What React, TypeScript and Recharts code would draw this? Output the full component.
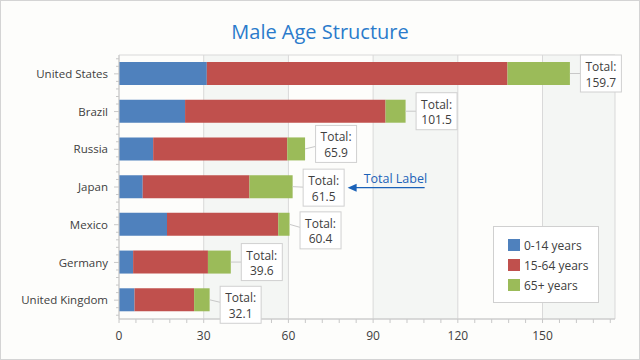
import React from 'react';
import { BarChart, Bar, XAxis, YAxis, CartesianGrid, LabelList, Legend } from 'recharts';

// ---- data ----
const COUNTRIES = ['United States', 'Brazil', 'Russia', 'Japan', 'Mexico', 'Germany', 'United Kingdom'];
const AGE_0_14 = [31.1, 23.4, 12.1, 8.4, 17.0, 5.0, 5.5];
const AGE_15_64 = [106.5, 71.0, 47.5, 37.8, 39.4, 26.5, 21.1];
const AGE_65_PLUS = [22.1, 7.1, 6.3, 15.3, 4.0, 8.1, 5.5];
const SERIES_NAMES = ['0-14 years', '15-64 years', '65+ years'];
const X_MAJOR_TICKS = [0, 30, 60, 90, 120, 150];
const X_MINOR_STEP = 6;
const TITLE = 'Male Age Structure';
const TOTAL_PREFIX = 'Total:';
const ANNOTATION_TEXT = 'Total Label';
const ANNOTATED_COUNTRY = 'Japan';

// ---- layout / style ----
const W = 640;
const H = 360;
const MARGIN = { top: 55, right: 25, bottom: 11, left: 0 };
const Y_AXIS_W = 119;
const X_AXIS_H = 30;
const PLOT_H = H - MARGIN.top - MARGIN.bottom - X_AXIS_H;
const BAND = PLOT_H / COUNTRIES.length;
const LABEL_SHIFT = [0, 0, -5, 1, 6, 0, 5];
const COLORS = ['#4f81bd', '#c0504d', '#9bbb59'];
const FONT = '"Segoe UI", "Open Sans", sans-serif';
const TEXT = '#404040';
const AXIS = '#c8c8c8';
const GRID = '#d9d9d9';
const BAND_FILL = '#f4f6f4';
const BG = '#fdfdfb';
const ACCENT = '#1b62b8';

const totals = COUNTRIES.map((_, i) => AGE_0_14[i] + AGE_15_64[i] + AGE_65_PLUS[i]);
const X_MAX = Math.max(...totals) * 1.1;
const X_TICKS: number[] = [];
for (let v = 0; v <= X_MAX; v += X_MINOR_STEP) X_TICKS.push(v);

const data = COUNTRIES.map((c, i) => ({
  country: c,
  a: AGE_0_14[i],
  b: AGE_15_64[i],
  c: AGE_65_PLUS[i],
}));

const XTick = (props: any) => {
  const { x, y, payload } = props;
  if (!X_MAJOR_TICKS.includes(payload.value)) return <g />;
  return (
    <text x={x} y={y + 13} textAnchor="middle" fill={TEXT} fontSize={12} fontFamily={FONT}>
      {payload.value}
    </text>
  );
};

const YTick = (props: any) => {
  const { x, y, payload } = props;
  const ax = x + 5 + 6;
  return (
    <g>
      <text x={x} y={y} dy={4.2} textAnchor="end" fill={TEXT} fontSize={11.5} fontFamily={FONT}>
        {payload.value}
      </text>
      {[-2, -1, 1, 2].map((k) => (
        <line key={k} x1={ax - 3} x2={ax} y1={y + (k * BAND) / 5} y2={y + (k * BAND) / 5} stroke={AXIS} />
      ))}
    </g>
  );
};

const TotalLabel = (props: any) => {
  const { x, y, width, height, index } = props;
  const endX = Number(x) + Number(width);
  const cy = Number(y) + Number(height) / 2;
  const shift = LABEL_SHIFT[index] || 0;
  const bw = 41;
  const bh = 37;
  const bx = endX + 10.5;
  const bcy = cy + shift;
  const by = bcy - bh / 2;
  const total = totals[index].toFixed(1);
  const annotate = COUNTRIES[index] === ANNOTATED_COUNTRY;
  const tip = bx + bw + 3.5;
  return (
    <g>
      <line x1={endX} y1={cy} x2={bx} y2={cy + shift * 0.5} stroke="#c8c8c8" />
      <rect x={bx} y={by} width={bw} height={bh} fill="#ffffff" stroke="#d0d0d0" />
      <text x={bx + bw / 2} y={by + 16} textAnchor="middle" fill={TEXT} fontSize={12} fontFamily={FONT}>
        {TOTAL_PREFIX}
      </text>
      <text x={bx + bw / 2} y={by + 31.5} textAnchor="middle" fill={TEXT} fontSize={12} fontFamily={FONT}>
        {total}
      </text>
      {annotate && (
        <g>
          <line x1={tip + 6} y1={bcy} x2={tip + 77} y2={bcy} stroke={ACCENT} strokeWidth={1.3} />
          <polygon points={`${tip},${bcy} ${tip + 9},${bcy - 4} ${tip + 9},${bcy + 4}`} fill={ACCENT} />
          <text x={tip + 16} y={bcy - 5} fill={ACCENT} fontSize={12.5} fontFamily={FONT}>
            {ANNOTATION_TEXT}
          </text>
        </g>
      )}
    </g>
  );
};

const vGen = (args: any) => {
  const { xAxis, offset } = args;
  const sc = xAxis && xAxis.scale;
  const map = (v: number) => {
    if (typeof sc === 'function') return sc(v);
    if (sc && typeof sc.map === 'function') return sc.map(v);
    return offset.left + (v / X_MAX) * offset.width;
  };
  return [...X_MAJOR_TICKS.map(map), offset.left + offset.width];
};

const hGen = (args: any) => {
  const { offset } = args;
  return [offset.top, offset.top + offset.height];
};

const LegendBox = () => (
  <div
    style={{
      boxSizing: 'border-box',
      width: 106,
      height: 77,
      border: '1px solid #d0d0d0',
      background: '#ffffff',
      padding: '8px 0 0 14px',
      fontFamily: FONT,
      fontSize: 12,
      color: TEXT,
    }}
  >
    {SERIES_NAMES.map((n, i) => (
      <div key={n} style={{ display: 'flex', alignItems: 'center', height: 20 }}>
        <span style={{ display: 'inline-block', width: 12, height: 12, background: COLORS[i], marginRight: 4 }} />
        <span>{n}</span>
      </div>
    ))}
  </div>
);

export default function App() {
  return (
    <div
      style={{
        position: 'absolute',
        left: 0,
        top: 0,
        width: W,
        height: H,
        background: BG,
        boxSizing: 'border-box',
        border: '1px solid #d4d4d4',
        overflow: 'hidden',
      }}
    >
      <div
        style={{
          position: 'absolute',
          left: 0,
          top: 17,
          width: W - 2,
          textAlign: 'center',
          fontFamily: FONT,
          fontSize: 20,
          color: '#2a7bcb',
          lineHeight: '28px',
        }}
      >
        {TITLE}
      </div>
      <div style={{ position: 'absolute', left: -1, top: -1 }}>
        <BarChart width={W} height={H} data={data} layout="vertical" margin={MARGIN} barSize={23}>
          <CartesianGrid
            stroke={GRID}
            verticalCoordinatesGenerator={vGen}
            horizontalCoordinatesGenerator={hGen}
            verticalFill={['transparent', BAND_FILL]}
          />
          <XAxis
            type="number"
            domain={[0, X_MAX]}
            ticks={X_TICKS}
            interval={0}
            height={X_AXIS_H}
            tickSize={4}
            tickMargin={4}
            stroke={AXIS}
            tickLine={{ stroke: AXIS }}
            tick={<XTick />}
            allowDataOverflow
          />
          <YAxis
            type="category"
            dataKey="country"
            width={Y_AXIS_W}
            tickSize={5}
            tickMargin={6}
            stroke={AXIS}
            tickLine={{ stroke: AXIS }}
            tick={<YTick />}
            interval={0}
          />
          <Legend
            layout="horizontal"
            align="center"
            verticalAlign="middle"
            wrapperStyle={{ left: 493, top: 226, width: 106, height: 77 }}
            content={() => <LegendBox />}
          />
          <Bar dataKey="a" name={SERIES_NAMES[0]} stackId="s" fill={COLORS[0]} isAnimationActive={false} />
          <Bar dataKey="b" name={SERIES_NAMES[1]} stackId="s" fill={COLORS[1]} isAnimationActive={false} />
          <Bar dataKey="c" name={SERIES_NAMES[2]} stackId="s" fill={COLORS[2]} isAnimationActive={false}>
            <LabelList dataKey="c" content={(p: any) => <TotalLabel {...p} />} />
          </Bar>
        </BarChart>
      </div>
    </div>
  );
}
